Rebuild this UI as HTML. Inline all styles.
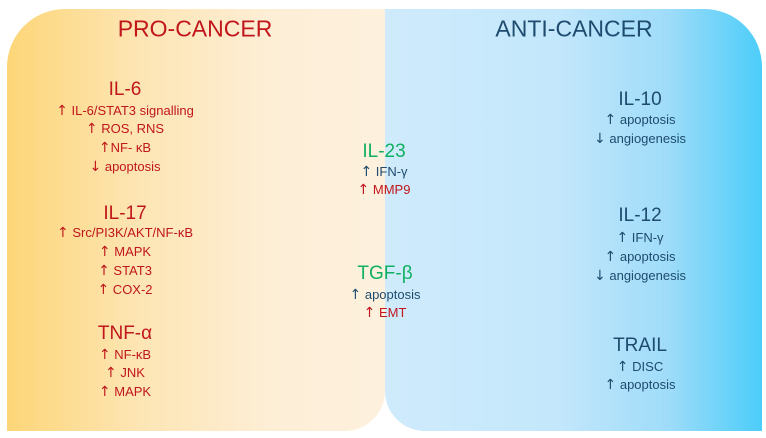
<!DOCTYPE html>
<html><head><meta charset="utf-8"><style>
html,body{margin:0;padding:0;background:#fff;}
#c{position:relative;width:766px;height:438px;overflow:hidden;font-family:"Liberation Sans","DejaVu Sans",sans-serif;}
.L{position:absolute;left:7px;top:9px;width:378px;height:422px;border-radius:58px 0 40px 0;background:linear-gradient(90deg,#fdd678 0%,#fde5b4 35%,#fdeed6 70%,#fdf0dd 100%);}
.R{position:absolute;left:385px;top:9px;width:377px;height:422px;border-radius:0 58px 0 40px;background:linear-gradient(90deg,#cfebfc 0%,#c4e7fb 45%,#9fdcf9 75%,#4ccdf9 100%);}
.t{position:absolute;transform:translate(-50%,-50%);white-space:nowrap;text-align:center;}
.h{font-size:23px;}
.s{font-size:19px;}
.l{font-size:13px;}
.l i{font-style:normal;font-family:"DejaVu Sans",sans-serif;font-size:14px;}
.r{color:#c0161c;}
.b{color:#1e4b6e;}
.g{color:#10b060;}
</style></head><body><div id="c">
<div class="L"></div><div class="R"></div>
<div class="t h r" style="left:195px;top:29px">PRO-CANCER</div>
<div class="t h b" style="left:574px;top:29px">ANTI-CANCER</div>

<div class="t s r" style="left:125px;top:90px">IL-6</div>
<div class="t l r" style="left:125px;top:111px"><i>↑</i> IL-6/STAT3 signalling</div>
<div class="t l r" style="left:125px;top:129px"><i>↑</i> ROS, RNS</div>
<div class="t l r" style="left:125px;top:148px"><i>↑</i>NF- κB</div>
<div class="t l r" style="left:125px;top:167px"><i>↓</i> apoptosis</div>

<div class="t s r" style="left:125px;top:214px">IL-17</div>
<div class="t l r" style="left:125px;top:233px"><i>↑</i> Src/PI3K/AKT/NF-κB</div>
<div class="t l r" style="left:125px;top:252px"><i>↑</i> MAPK</div>
<div class="t l r" style="left:125px;top:271px"><i>↑</i> STAT3</div>
<div class="t l r" style="left:125px;top:290px"><i>↑</i> COX-2</div>

<div class="t s r" style="left:125px;top:334px">TNF-α</div>
<div class="t l r" style="left:125px;top:355px"><i>↑</i> NF-κB</div>
<div class="t l r" style="left:125px;top:373px"><i>↑</i> JNK</div>
<div class="t l r" style="left:125px;top:392px"><i>↑</i> MAPK</div>

<div class="t s g" style="left:384px;top:152px">IL-23</div>
<div class="t l b" style="left:384px;top:172px"><i>↑</i> IFN-γ</div>
<div class="t l r" style="left:384px;top:190px"><i>↑</i> MMP9</div>

<div class="t s g" style="left:385px;top:274px">TGF-β</div>
<div class="t l b" style="left:385px;top:295px"><i>↑</i> apoptosis</div>
<div class="t l r" style="left:385px;top:313px"><i>↑</i> EMT</div>

<div class="t s b" style="left:640px;top:100px">IL-10</div>
<div class="t l b" style="left:640px;top:120px"><i>↑</i> apoptosis</div>
<div class="t l b" style="left:640px;top:139px"><i>↓</i> angiogenesis</div>

<div class="t s b" style="left:640px;top:216px">IL-12</div>
<div class="t l b" style="left:640px;top:238px"><i>↑</i> IFN-γ</div>
<div class="t l b" style="left:640px;top:257px"><i>↑</i> apoptosis</div>
<div class="t l b" style="left:640px;top:276px"><i>↓</i> angiogenesis</div>

<div class="t s b" style="left:640px;top:346px">TRAIL</div>
<div class="t l b" style="left:640px;top:367px"><i>↑</i> DISC</div>
<div class="t l b" style="left:640px;top:385px"><i>↑</i> apoptosis</div>
</div></body></html>
